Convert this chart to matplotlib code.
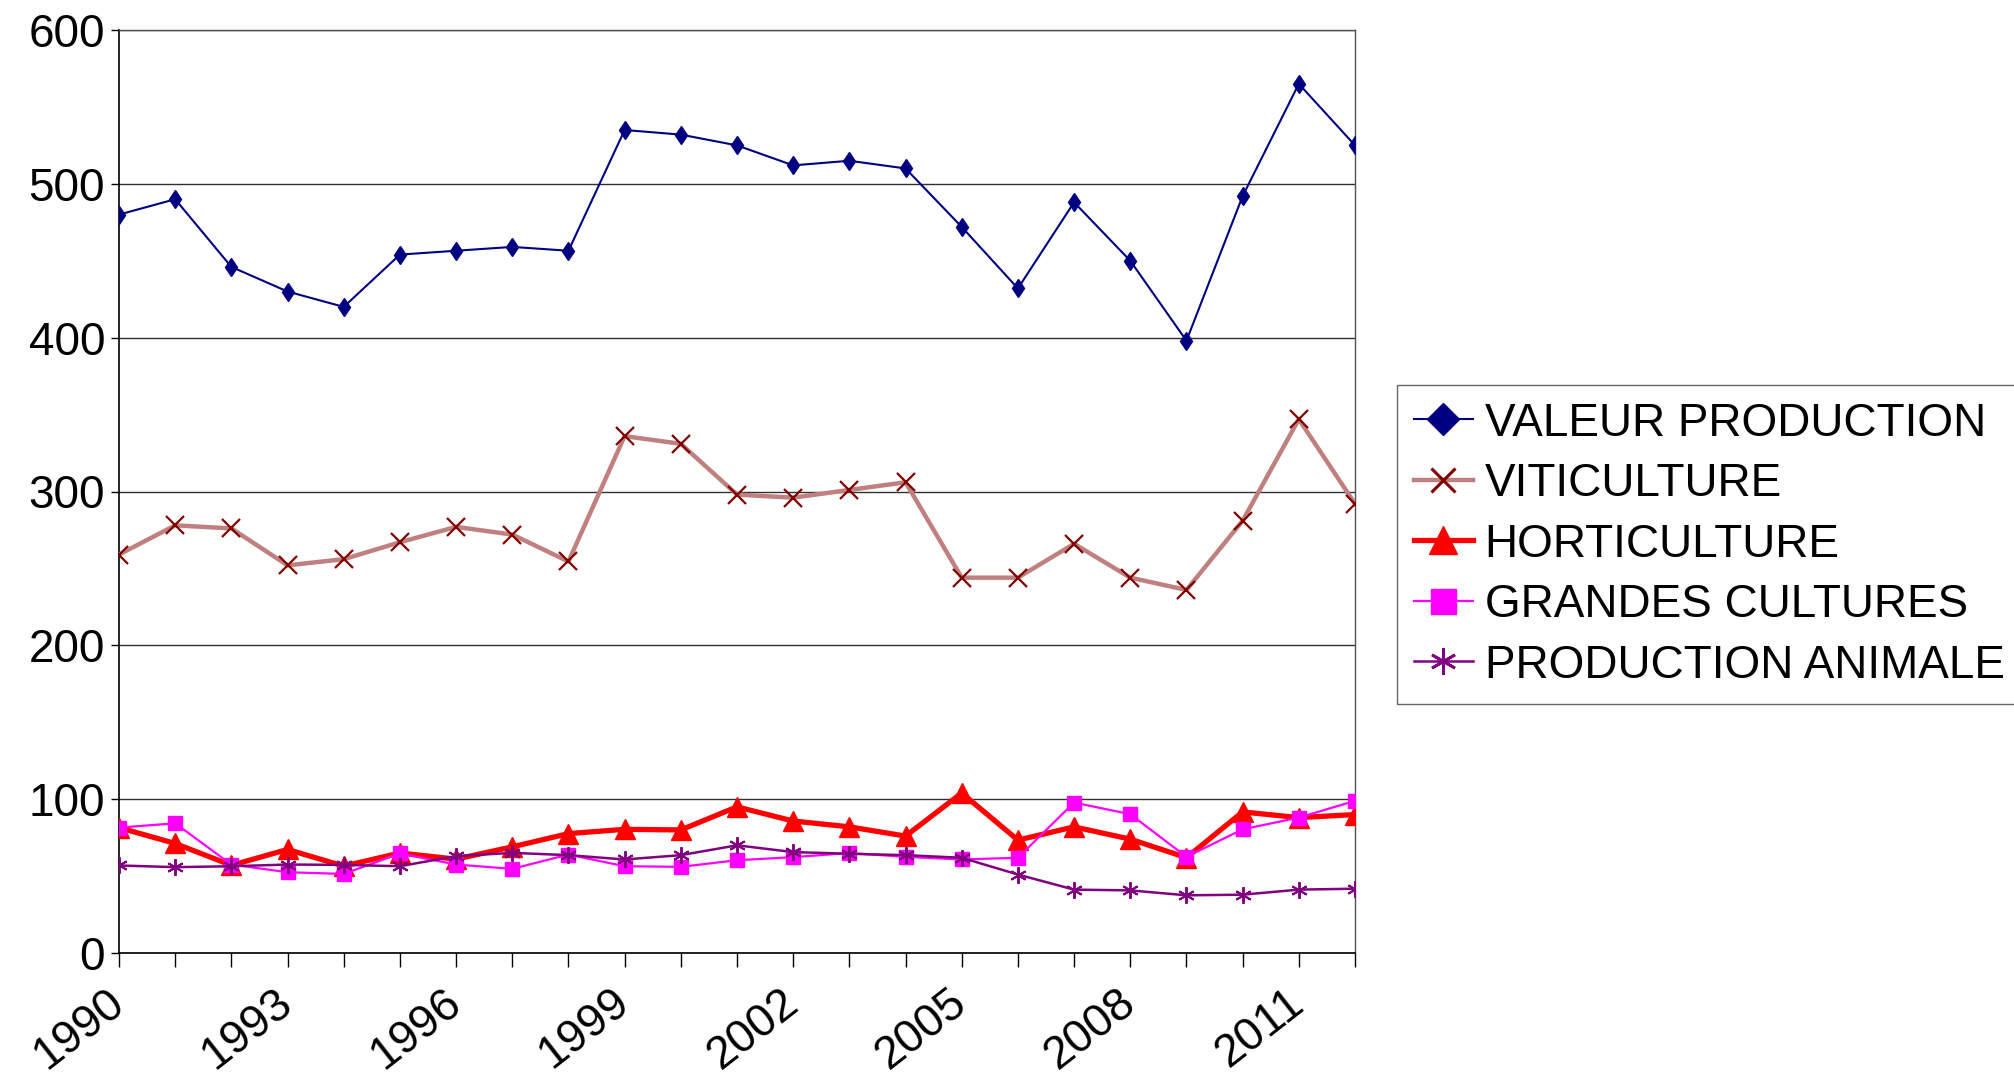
import matplotlib
matplotlib.use("Agg")
import matplotlib.pyplot as plt

years = list(range(1990, 2013))
valeur_production = [480, 490, 446, 430, 420, 454, 456.5, 459, 456.5, 535, 532, 525, 512, 515, 510,
                     472, 432, 488, 450, 398, 492, 565, 525]
viticulture = [259, 278, 276, 252, 256, 267, 277, 272, 254.5, 336, 331, 298, 296, 301, 306,
               244, 244, 266, 244, 236, 281, 347, 292]
horticulture = [81.5, 71.2, 57, 67.3, 56.5, 65, 61, 69, 77.6, 80.4, 80, 95, 85.8, 82, 76,
                104, 73.4, 82, 74, 62, 91.7, 88, 90]
grandes_cultures = [81.5, 84.3, 57.5, 52.5, 51.4, 64.7, 57.5, 54.7, 64, 56.4, 56, 60.3, 62.3, 65, 62.5,
                    60.8, 61.9, 97.8, 90.2, 62.5, 80.4, 88, 98.9]
production_animale = [56.9, 55.8, 56.4, 57.5, 57.3, 56.4, 63, 65.1, 63.6, 60.8, 63.6, 70, 65.6, 64.5, 63.6,
                      61.9, 51, 41.2, 40.7, 37.5, 37.9, 41.2, 41.8]
labels = ["VALEUR PRODUCTION", "VITICULTURE", "HORTICULTURE", "GRANDES CULTURES", "PRODUCTION ANIMALE"]
year_labels = ["1990", "1993", "1996", "1999", "2002", "2005", "2008", "2011"]

plt.rcParams['font.family'] = ['Liberation Sans', 'DejaVu Sans']

W, H = 2014, 1077
fig = plt.figure(figsize=(W / 100, H / 100), dpi=100)
ax = fig.add_axes([119 / W, 1 - 953 / H, (1355 - 119) / W, (953 - 30) / H])

ax.plot(years, valeur_production, color='#000080', lw=1.5, marker='d', ms=9.5,
        mfc='#000080', mec='#000080', label=labels[0], zorder=3)
ax.plot(years, viticulture, color='#C08080', lw=3.2, marker='x', ms=13, mew=1.6,
        mec='#800000', label=labels[1], zorder=3)
ax.plot(years, horticulture, color='#FF0000', lw=3.8, marker='^', ms=15,
        mfc='#FF0000', mec='#FF0000', label=labels[2], zorder=3)
ax.plot(years, grandes_cultures, color='#FF00FF', lw=1.6, marker='s', ms=10.5,
        mfc='#FF00FF', mec='#FF00FF', label=labels[3], zorder=3)
ax.plot(years, production_animale, color='#800080', lw=1.8, marker=(6, 2, 0), ms=12, mew=1.4,
        mec='#800080', label=labels[4], zorder=3)

ax.set_xlim(1990, 2012)
ax.set_ylim(0, 600)
ax.set_yticks(range(0, 601, 100))
ax.set_xticks(years, minor=False)
ax.set_xticklabels([str(y) if str(y) in year_labels else "" for y in years],
                   rotation=38, ha='right', va='center', rotation_mode='anchor', fontsize=33)
ax.tick_params(axis='x', direction='out', length=10, width=1, pad=22)
ax.tick_params(axis='y', direction='out', length=6, width=1, labelsize=33, pad=4)
ax.grid(axis='y', color='#303030', lw=1)
for s in ['left', 'bottom']:
    ax.spines[s].set_color('black')
    ax.spines[s].set_linewidth(1.2)
for s in ['top', 'right']:
    ax.spines[s].set_color('#505050')
    ax.spines[s].set_linewidth(1)

leg = fig.legend(loc='upper left', bbox_to_anchor=(1397 / W, 1 - 385 / H), fontsize=33,
                 frameon=True, fancybox=False, edgecolor='#404040', handlelength=1.3,
                 handletextpad=0.25, labelspacing=0.36, borderpad=0.36, borderaxespad=0)
leg.get_frame().set_linewidth(1)
for h, ms in zip(leg.legend_handles, [16, 17, 20, 18, 19]):
    h.set_markersize(ms)
leg.legend_handles[0].set_marker('D')
leg.legend_handles[1].set_markeredgewidth(2.2)
leg.legend_handles[4].set_markeredgewidth(2.0)

fig.savefig('out.png', dpi=100)
